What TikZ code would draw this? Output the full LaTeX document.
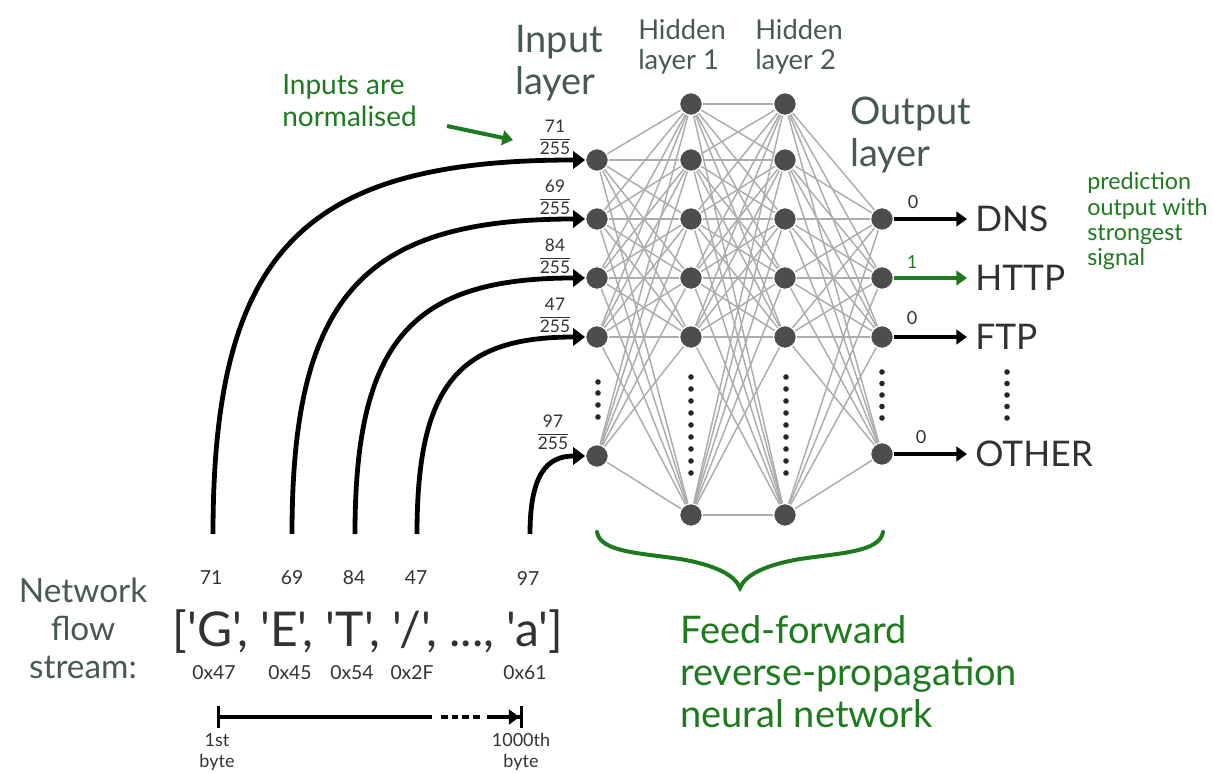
\documentclass[tikz,border=0pt]{standalone}
\usepackage{fontspec}
\setmainfont{Lato}
\newfontfamily\rawfont{Lato}
\usetikzlibrary{arrows.meta}
\definecolor{tgray}{RGB}{72,90,80}
\definecolor{tgreen}{RGB}{30,122,30}
\definecolor{ngray}{RGB}{77,77,77}
\definecolor{egray}{RGB}{172,172,172}
\definecolor{dtext}{RGB}{50,50,50}
\newcommand{\fsz}[2]{\fontsize{#1}{#2}\selectfont}
\newcommand{\byfrac}[1]{$\displaystyle\frac{\mbox{#1}}{\mbox{255}}$}
\begin{document}
\begin{tikzpicture}[x=0.75pt,y=-0.75pt,
  neuron/.style={circle, fill=ngray, draw=white, line width=0.9pt, minimum size=17pt, inner sep=0pt},
  link/.style={draw=egray, line width=1.1pt},
  ldot/.style={circle, fill=black!85, inner sep=0pt, minimum size=4.2pt},
  feed/.style={line width=3.6pt, -{Triangle[length=9pt,width=13pt]}},
  outarr/.style={line width=2.6pt, shorten >=6pt, -{Triangle[length=8pt,width=11pt]}},
  fracl/.style={font=\fsz{13}{15}, text=dtext, inner sep=0pt},
  big/.style={font=\fsz{28.5}{31.5}, text=tgray, inner sep=0pt, align=left},
  hid/.style={font=\fsz{20.5}{22.5}, text=tgray, inner sep=0pt, align=left},
  outlab/.style={font=\fsz{26.5}{28}, text=dtext, inner sep=0pt},
  small/.style={font=\fsz{13.5}{15}, text=dtext, inner sep=0pt},
  num/.style={font=\fsz{14.5}{16}, text=dtext, inner sep=0pt},
  gtext/.style={text=tgreen, inner sep=0pt, align=left},
  spanline/.style={line width=2.6pt},
]
\useasboundingbox (0,0) rectangle (1214,773);

% ---- neurons
\foreach \n/\y in {1/160,2/219,3/278,4/337,5/456} \node[neuron] (i\n) at (597,\y) {};
\foreach \n/\y in {1/104,2/160,3/219,4/278,5/337,6/515} \node[neuron] (a\n) at (691,\y) {};
\foreach \n/\y in {1/104,2/160,3/219,4/278,5/337,6/515} \node[neuron] (b\n) at (785,\y) {};
\foreach \n/\y in {1/219,2/278,3/337,4/454} \node[neuron] (o\n) at (882,\y) {};

% ---- links
\foreach \i in {1,...,5} \foreach \j in {1,...,6} \draw[link] (i\i) -- (a\j);
\foreach \i in {1,...,6} \foreach \j in {1,...,6} \draw[link] (a\i) -- (b\j);
\foreach \i in {1,...,6} \foreach \j in {1,...,4} \draw[link] (b\i) -- (o\j);

% ---- ellipsis dots
\foreach \y in {382,393,405,417} \node[ldot] at (598,\y) {};
\foreach \k in {0,...,8} \node[ldot] at (691,377+12*\k) {};
\foreach \k in {0,...,8} \node[ldot] at (786,377+12*\k) {};
\foreach \k in {0,...,4} \node[ldot] at (882,372+11.5*\k) {};
\foreach \k in {0,...,4} \node[ldot] at (1007,372+11.5*\k) {};

% ---- titles (base anchor = baseline of last line)
\node[big, anchor=base west] (tin) at (515,95) {Input\\layer};
\node[hid, anchor=base west] (th1) at (638,70) {Hidden\\layer 1};
\node[hid, anchor=base west] (th2) at (755,70) {Hidden\\layer 2};
\node[big, anchor=base west] (tout) at (850,167) {Output\\layer};

% ---- normalisation note
\node[gtext, font=\fsz{21}{24}, anchor=base west] (norm) at (282,127) {Inputs are\\normalised};
\coordinate (g0) at (447,126);
\coordinate (g1) at (513,140);
\draw[tgreen, line width=3pt, -{Triangle[length=8pt,width=11pt]}] (g0) -- (g1);

% ---- fractions
\node[fracl] (f1) at (555,137) {\byfrac{71}};
\node[fracl] (f2) at (555,197) {\byfrac{69}};
\node[fracl] (f3) at (555,256) {\byfrac{84}};
\node[fracl] (f4) at (555,315) {\byfrac{47}};
\node[fracl] (f5) at (553,432) {\byfrac{97}};

% ---- byte stream
\node[font=\fsz{25}{28.5}, text=tgray, inner sep=0pt, align=center, anchor=base] (nfs) at (83,678) {Network\\flow\\stream:};
\node[num] (n1) at (211,578) {71};
\node[num] (n2) at (292,578) {69};
\node[num] (n3) at (354,578) {84};
\node[num] (n4) at (416,578) {47};
\node[num] (n5) at (528,578) {97};
\node[font=\fsz{36}{40}\rawfont, text=dtext, inner sep=0pt, anchor=base] (lst) at (368,646) {['G', 'E', 'T', '/', ..., 'a']};
\node[num] (h1) at (214,673) {0x47};
\node[num] (h2) at (290,673) {0x45};
\node[num] (h3) at (352,673) {0x54};
\node[num] (h4) at (412,673) {0x2F};
\node[num] (h5) at (525,673) {0x61};

% ---- input curves
\coordinate (s1) at (213,534);
\coordinate (s2) at (292,534);
\coordinate (s3) at (355,534);
\coordinate (s4) at (417,534);
\coordinate (s5) at (530,534);
\draw[feed] (s1) .. controls +(0,-285) and +(-280,0) .. (i1.west);
\draw[feed] (s2) .. controls +(0,-240) and +(-220,0) .. (i2.west);
\draw[feed] (s3) .. controls +(0,-195) and +(-172,0) .. (i3.west);
\draw[feed] (s4) .. controls +(0,-150) and +(-126,0) .. (i4.west);
\draw[feed] (s5) .. controls +(0,-60) and +(-38,0) .. (i5.west);

% ---- byte range bar
\coordinate (r0) at (217,717);
\coordinate (r1) at (432,717);
\coordinate (r2) at (441,717);
\coordinate (r3) at (481,717);
\coordinate (r4) at (487,717);
\coordinate (r5) at (523,717);
\draw[spanline, {Bar[width=16pt]}-] (r0) -- (r1);
\draw[spanline, dash pattern=on 5pt off 3pt] (r2) -- (r3);
\draw[spanline, -{Triangle[length=8pt,width=11pt] Bar[width=16pt]}] (r4) -- (r5);
\node[num, font=\fsz{13.5}{15.75}, align=center, anchor=base] (b1) at (217,767) {1st\\byte};
\node[num, font=\fsz{13.5}{15.75}, align=center, anchor=base] (b2) at (521,767) {1000th\\byte};

% ---- outputs
\node[outlab, anchor=west] (dns) at (975,219) {DNS};
\node[outlab, anchor=west] (http) at (975,278) {HTTP};
\node[outlab, anchor=west] (ftp) at (975,337) {FTP};
\node[outlab, anchor=west] (oth) at (975,454) {OTHER};
\draw[outarr] (o1) -- (dns);
\draw[outarr, tgreen] (o2) -- (http);
\draw[outarr] (o3) -- (ftp);
\draw[outarr] (o4) -- (oth);
\node[small] (z1) at (913,202) {0};
\node[small, text=tgreen] (z2) at (912,262) {1};
\node[small] (z3) at (912,318) {0};
\node[small] (z4) at (921,437) {0};
\node[gtext, font=\fsz{17.5}{19}, anchor=base west] (pred) at (1087,266) {prediction\\output with\\strongest\\signal};

% ---- brace and caption
\draw[tgreen, line width=3pt, line cap=round]
  (597,532) .. controls (600,552) and (640,553) .. (680,559)
  .. controls (715,565) and (735,575) .. (740,588)
  .. controls (745,575) and (765,565) .. (800,559)
  .. controls (840,553) and (880,552) .. (883,532);
\node[gtext, font=\fsz{28.5}{31.5}, anchor=base west] (cap) at (680,727) {Feed-forward\\reverse-propagation\\neural network};
\end{tikzpicture}
\end{document}
